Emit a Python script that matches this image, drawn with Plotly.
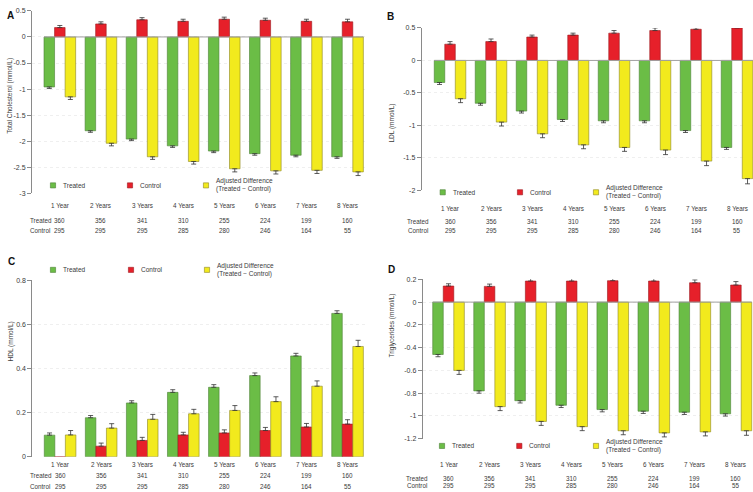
import plotly.graph_objects as go

W, H = 753, 492

years = ["1 Year", "2 Years", "3 Years", "4 Years", "5 Years", "6 Years", "7 Years", "8 Years"]
n_treated = [360, 356, 341, 310, 255, 224, 199, 160]
n_control = [295, 295, 295, 285, 280, 246, 164, 55]

# A - total cholesterol
tc_treated = [-0.96, -1.80, -1.96, -2.09, -2.19, -2.24, -2.27, -2.30]
tc_control = [0.18, 0.25, 0.33, 0.30, 0.34, 0.32, 0.30, 0.29]
tc_adjusted = [-1.15, -2.04, -2.30, -2.39, -2.53, -2.57, -2.56, -2.59]
tc_treated_err = [0.03, 0.03, 0.03, 0.03, 0.03, 0.03, 0.03, 0.03]
tc_control_err = [0.04, 0.04, 0.04, 0.04, 0.04, 0.04, 0.04, 0.05]
tc_adjusted_err = [0.05, 0.05, 0.05, 0.05, 0.06, 0.06, 0.06, 0.07]

# B - LDL
ldl_treated = [-0.34, -0.66, -0.78, -0.91, -0.93, -0.93, -1.08, -1.34]
ldl_control = [0.25, 0.29, 0.36, 0.39, 0.42, 0.46, 0.48, 0.50]
ldl_adjusted = [-0.59, -0.95, -1.13, -1.30, -1.34, -1.38, -1.55, -1.82]
ldl_treated_err = [0.03, 0.03, 0.03, 0.03, 0.03, 0.03, 0.03, 0.03]
ldl_control_err = [0.04, 0.04, 0.03, 0.03, 0.04, 0.04, 0.04, 0.05]
ldl_adjusted_err = [0.06, 0.06, 0.06, 0.06, 0.06, 0.07, 0.07, 0.08]

# C - HDL
hdl_treated = [0.098, 0.177, 0.244, 0.292, 0.315, 0.368, 0.457, 0.650]
hdl_control = [-0.003, 0.048, 0.074, 0.099, 0.108, 0.119, 0.135, 0.148]
hdl_adjusted = [0.099, 0.130, 0.170, 0.195, 0.210, 0.250, 0.320, 0.500]
hdl_treated_err = [0.01, 0.01, 0.01, 0.012, 0.012, 0.012, 0.012, 0.012]
hdl_control_err = [0.012, 0.014, 0.014, 0.012, 0.014, 0.014, 0.016, 0.02]
hdl_adjusted_err = [0.02, 0.02, 0.022, 0.02, 0.022, 0.022, 0.024, 0.028]

# D - triglycerides
tg_treated = [-0.46, -0.78, -0.866, -0.906, -0.944, -0.958, -0.967, -0.981]
tg_control = [0.141, 0.138, 0.185, 0.185, 0.188, 0.185, 0.170, 0.150]
tg_adjusted = [-0.60, -0.918, -1.048, -1.094, -1.130, -1.149, -1.140, -1.130]
tg_treated_err = [0.02, 0.02, 0.02, 0.02, 0.02, 0.02, 0.02, 0.02]
tg_control_err = [0.02, 0.02, 0.025, 0.025, 0.02, 0.025, 0.025, 0.03]
tg_adjusted_err = [0.035, 0.035, 0.035, 0.035, 0.035, 0.035, 0.035, 0.04]

tc_ticks = [0.5, 0, -0.5, -1, -1.5, -2, -2.5, -3]
ldl_ticks = [0.5, 0, -0.5, -1, -1.5, -2]
hdl_ticks = [0.8, 0.6, 0.4, 0.2, 0]
tg_ticks = [0.2, 0, -0.2, -0.4, -0.6, -0.8, -1, -1.2]

series_names = ["Treated", "Control", "Adjusted Difference<br>(Treated \u2212 Control)"]
fill = ["#6bbd46", "#e6202a", "#f2ea1d"]
edge = ["#4b7f36", "#9a1a1f", "#8c8524"]

BARGAP = 0.23
FONT = "Liberation Sans, Arial, sans-serif"
TXT = "#3a3a3a"


def px(x):
    return x / W


def py(y):
    return 1 - y / H


panels = [
    dict(letter="A", title="Total Cholesterol (mmol/L)",
         data=[(tc_treated, tc_treated_err), (tc_control, tc_control_err), (tc_adjusted, tc_adjusted_err)],
         ticks=tc_ticks, xdom=(32, 365), ydom=(7, 192), xr=(-0.677, 7.425),
         letter_pos=(4.5, 4.5), title_pos=(4.5, 53), zero=True,
         legend=(184, [53, 130, 206]), rows=(204, 220, 230), rowx=28),
    dict(letter="B", title="LDL (mmol/L)",
         data=[(ldl_treated, ldl_treated_err), (ldl_control, ldl_control_err), (ldl_adjusted, ldl_adjusted_err)],
         ticks=ldl_ticks, xdom=(421.7, 753), ydom=(24.3, 189), xr=(-0.691, 7.39),
         letter_pos=(390, 5.5), title_pos=(392.5, 99), zero=True,
         legend=(191, [442.7, 520, 596]), rows=(207, 220.3, 230), rowx=418.5),
    dict(letter="C", title="HDL (mmol/L)",
         data=[(hdl_treated, hdl_treated_err), (hdl_control, hdl_control_err), (hdl_adjusted, hdl_adjusted_err)],
         ticks=hdl_ticks, xdom=(32.3, 365), ydom=(280.3, 459.3), xr=(-0.677, 7.425),
         letter_pos=(6, 261), title_pos=(4.7, 365), zero=False,
         legend=(269.7, [53, 131, 207]), rows=(466.7, 478.3, 489.3), rowx=28),
    dict(letter="D", title="Triglycerides (mmol/L)",
         data=[(tg_treated, tg_treated_err), (tg_control, tg_control_err), (tg_adjusted, tg_adjusted_err)],
         ticks=tg_ticks, xdom=(422.7, 753), ydom=(279.3, 441), xr=(-0.629, 7.416),
         letter_pos=(391, 269), title_pos=(391.7, 361), zero=True,
         legend=(448.3, [442, 519.3, 596]), rows=(467.3, 481, 488.3), rowx=417.5),
]


def one_sided(vals, errs):
    up = [e if v >= 0 else 0 for v, e in zip(vals, errs)]
    down = [e if v < 0 else 0 for v, e in zip(vals, errs)]
    return dict(type="data", symmetric=False, array=up, arrayminus=down,
                color="#333333", thickness=0.8, width=2.5)


fig = go.Figure()
annotations = []
shapes = []
layout_axes = {}

for i, p in enumerate(panels):
    k = "" if i == 0 else str(i + 1)
    for j, (vals, errs) in enumerate(p["data"]):
        fig.add_trace(go.Bar(
            x=years, y=vals, xaxis="x" + k, yaxis="y" + k,
            marker=dict(color=fill[j], line=dict(color=edge[j], width=0.6)),
            error_y=one_sided(vals, errs), showlegend=False, name=series_names[j],
        ))

    lo, hi = min(p["ticks"]), max(p["ticks"])
    layout_axes["xaxis" + k] = dict(
        domain=[px(p["xdom"][0]), px(p["xdom"][1])], range=list(p["xr"]),
        type="category", visible=False, anchor="y" + k,
    )
    layout_axes["yaxis" + k] = dict(
        domain=[py(p["ydom"][1]), py(p["ydom"][0])], range=[lo, hi],
        anchor="x" + k, showline=True, linecolor="#8a8a8a", linewidth=1,
        ticks="outside", ticklen=4, tickcolor="#8a8a8a", tickwidth=1,
        tickvals=p["ticks"], ticktext=[f"{t:g}" for t in p["ticks"]],
        tickfont=dict(size=7, color=TXT, family=FONT),
        showgrid=True, gridcolor="#efefef", griddash="dot", gridwidth=1,
        zeroline=False,
    )

    if p["zero"]:
        shapes.append(dict(type="line", xref="x" + k, yref="y" + k,
                           x0=-0.5 + BARGAP / 2, x1=7.5 - BARGAP / 2, y0=0, y1=0,
                           line=dict(color="#a0a0a0", width=1), layer="above"))

    # panel letter and axis title
    lx, ly = p["letter_pos"]
    annotations.append(dict(text="<b>" + p["letter"] + "</b>", x=px(lx), y=py(ly),
                            xref="paper", yref="paper", showarrow=False,
                            font=dict(size=10, color="#111111", family=FONT)))
    tx, ty = p["title_pos"]
    annotations.append(dict(text=p["title"], x=px(tx), y=py(ty), textangle=-90,
                            xref="paper", yref="paper", showarrow=False,
                            font=dict(size=6.5, color=TXT, family=FONT)))

    # legend drawn as swatches + labels
    leg_y, leg_xs = p["legend"]
    for j, lx in enumerate(leg_xs):
        shapes.append(dict(type="rect", xref="paper", yref="paper",
                           x0=px(lx - 2.6), x1=px(lx + 2.6), y0=py(leg_y + 2.6), y1=py(leg_y - 2.6),
                           fillcolor=fill[j], line=dict(color=edge[j], width=0.6)))
        annotations.append(dict(text=series_names[j], x=px(lx + 8), y=py(leg_y),
                                xref="paper", yref="paper", xanchor="left", yanchor="middle",
                                align="left", showarrow=False,
                                font=dict(size=6.5, color=TXT, family=FONT)))

    # year labels and sample size table
    r_year, r_t, r_c = p["rows"]
    for yr, nt, nc in zip(years, n_treated, n_control):
        for txt, ry in ((yr, r_year), (str(nt), r_t), (str(nc), r_c)):
            annotations.append(dict(text=txt, x=yr, y=py(ry), xref="x" + k, yref="paper",
                                    showarrow=False, yanchor="middle",
                                    font=dict(size=6.3, color=TXT, family=FONT)))
    for txt, ry in (("Treated", r_t), ("Control", r_c)):
        annotations.append(dict(text=txt, x=px(p["rowx"]), y=py(ry), xref="paper", yref="paper",
                                showarrow=False, yanchor="middle",
                                font=dict(size=6.3, color=TXT, family=FONT)))

fig.update_layout(
    width=W, height=H,
    margin=dict(l=0, r=0, t=0, b=0),
    paper_bgcolor="white", plot_bgcolor="white",
    barmode="group", bargap=BARGAP, bargroupgap=0,
    showlegend=False,
    font=dict(family=FONT, color=TXT),
    annotations=annotations, shapes=shapes,
    **layout_axes,
)

# page body has a default 8px margin; drop it so the figure fills the window
fig.write_html("out.html", config={"displayModeBar": False},
               post_script="document.body.style.margin='0';document.body.style.overflow='hidden';")
